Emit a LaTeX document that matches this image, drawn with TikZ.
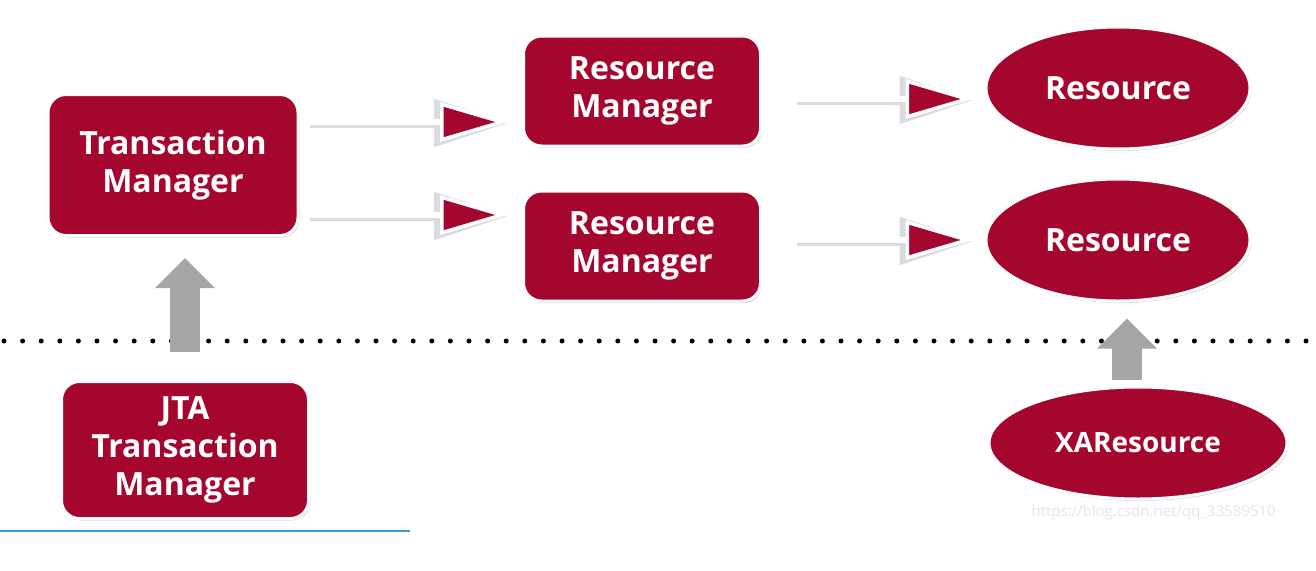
\documentclass[tikz,border=0pt]{standalone}
\usepackage{fontspec}
\setmainfont{Open Sans}
\usepackage{tikz}
\usetikzlibrary{arrows.meta,positioning,shapes.geometric,shadows}
\definecolor{JTAred}{HTML}{A5062E}
\definecolor{linkblue}{HTML}{2E9BE0}
\tikzset{
  mgr/.style={draw=white, line width=3pt, fill=JTAred, rounded corners=18pt, text=white, align=center, inner sep=0pt,
    font=\bfseries\fontsize{32}{38}\selectfont, drop shadow={shadow xshift=1.5pt, shadow yshift=-2pt, opacity=.3}},
  res/.style={mgr, ellipse, sharp corners},
  flow/.style={draw=white, line width=6pt, -{Triangle[length=68pt, width=39pt, fill=JTAred, line width=3.5pt]},
    preaction={draw=black!14, line width=9pt, transform canvas={yshift=-1pt}, -{Triangle[length=74pt, width=46pt]}}},
  lift/.style={draw=black!35, line width=30pt, -{Triangle[length=30pt, width=58pt]}},
  sep/.style={line width=5pt, line cap=round, dash pattern=on 0pt off 18.6pt}
}
\begin{document}
\begin{tikzpicture}[x=1pt, y=-1pt]
  \useasboundingbox (0,0) rectangle (1316,570);
  \draw[sep] (4,341) -- (1316,341);

  \node[mgr, minimum width=250pt, minimum height=141pt] (tm) at (173,165) {Transaction\\Manager};
  \node[mgr, minimum width=237pt, minimum height=110pt] (rm1) at (642,91) {Resource\\Manager};
  \node[mgr, minimum width=237pt, minimum height=110pt] (rm2) at (642,246) {Resource\\Manager};
  \node[res, minimum width=264pt, minimum height=122pt] (res1) at (1118,88) {Resource};
  \node[res, minimum width=264pt, minimum height=122pt] (res2) at (1118,240) {Resource};
  \node[mgr, minimum width=247pt, minimum height=137pt] (jta) at (185,450) {JTA\\Transaction\\Manager};
  \node[res, minimum width=298pt, minimum height=112pt, font=\bfseries\fontsize{28}{34}\selectfont] (xa) at (1138,443) {XAResource};

  \draw[flow, shorten <=10pt, shorten >=14pt] ([yshift=43pt]tm.east) -- ([yshift=43pt]tm.east -| rm1.west);
  \draw[flow, shorten <=10pt, shorten >=14pt] ([yshift=-50pt]tm.east) -- ([yshift=-50pt]tm.east -| rm2.west);
  \draw[flow, shorten <=35pt, shorten >=11pt] ([yshift=-8pt]rm1.east) -- ([yshift=-8pt]rm1.east -| res1.west);
  \draw[flow, shorten <=35pt, shorten >=11pt] ([yshift=6pt]rm2.east) -- ([yshift=6pt]rm2.east -| res2.west);

  \draw[lift, shorten <=28pt, shorten >=21pt] (jta.north) -- (jta.north |- tm.south);
  \draw[lift, shorten <=6pt, shorten >=16pt] ([xshift=-11pt]xa.north) -- ([xshift=-11pt]xa.north |- res2.south);

  \draw[linkblue, line width=2pt] (0,531) -- (410,531);
  \node[text=black!10, anchor=west, font=\fontsize{15}{15}\selectfont] (wm) at (1028,513) {https://blog.csdn.net/qq\_33589510};
\end{tikzpicture}
\end{document}
